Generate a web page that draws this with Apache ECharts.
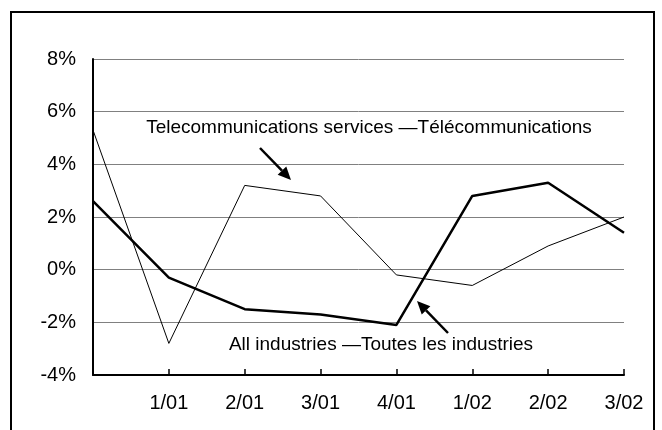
<!DOCTYPE html>
<html>
<head>
<meta charset="utf-8">
<script src="https://cdn.jsdelivr.net/npm/echarts@6/dist/echarts.min.js"></script>
<style>
html,body{margin:0;padding:0;background:#fff;}
#chart{width:662px;height:430px;}
</style>
</head>
<body>
<div id="chart"></div>
<script>
var categories = ['', '1/01', '2/01', '3/01', '4/01', '1/02', '2/02', '3/02'];
var telecom = [5.3, -2.8, 3.2, 2.8, -0.2, -0.6, 0.9, 2.0];
var allIndustries = [2.6, -0.3, -1.5, -1.7, -2.1, 2.8, 3.3, 1.4];
var yTicks = { min: -4, max: 8, interval: 2 };
var telecomLabel = 'Telecommunications services \u2014T\u00e9l\u00e9communications';
var allLabel = 'All industries \u2014Toutes les industries';

var FONT = '"Liberation Sans", Arial, sans-serif';
var chart = echarts.init(document.getElementById('chart'));

function arrow(x1, y1, x2, y2) {
  var dx = x2 - x1, dy = y2 - y1;
  var len = Math.sqrt(dx * dx + dy * dy);
  var ux = dx / len, uy = dy / len;
  var hl = 13, hw = 6;
  var bx = x2 - ux * hl, by = y2 - uy * hl;
  var px = -uy, py = ux;
  return [
    { type: 'line', shape: { x1: x1, y1: y1, x2: bx, y2: by }, style: { stroke: '#000', lineWidth: 2.5 }, z: 10 },
    { type: 'polygon', shape: { points: [[x2, y2], [bx + px * hw, by + py * hw], [bx - px * hw, by - py * hw]] }, style: { fill: '#000' }, z: 10 }
  ];
}

var graphics = [
  { type: 'rect', shape: { x: 11, y: 12, width: 643, height: 440 }, style: { fill: 'none', stroke: '#000', lineWidth: 2 }, z: 10 },
  { type: 'text', x: 369, y: 128, style: { text: telecomLabel, font: '19px ' + FONT, fill: '#000', align: 'center', verticalAlign: 'middle' }, z: 10 },
  { type: 'text', x: 381, y: 345, style: { text: allLabel, font: '19px ' + FONT, fill: '#000', align: 'center', verticalAlign: 'middle' }, z: 10 }
].concat(arrow(260, 148, 291, 180)).concat(arrow(448, 333, 417, 301));

chart.setOption({
  animation: false,
  backgroundColor: '#fff',
  grid: { left: 93, right: 38, top: 59, bottom: 55, containLabel: false },
  xAxis: {
    type: 'category',
    data: categories,
    boundaryGap: false,
    axisLine: { onZero: false, lineStyle: { color: '#000', width: 2 } },
    axisTick: { show: true, inside: true, length: 6, alignWithLabel: true, lineStyle: { color: '#000', width: 1.5 } },
    axisLabel: { color: '#000', fontSize: 20, fontFamily: FONT, margin: 18, interval: 0 },
    splitLine: { show: false }
  },
  yAxis: {
    type: 'value',
    min: yTicks.min, max: yTicks.max, interval: yTicks.interval,
    axisLine: { show: true, lineStyle: { color: '#000', width: 2 } },
    axisTick: { show: false },
    axisLabel: { color: '#000', fontSize: 20, fontFamily: FONT, margin: 17, formatter: '{value}%' },
    splitLine: { show: true, lineStyle: { color: '#808080', width: 1 } }
  },
  series: [
    { name: 'Telecom', type: 'line', data: telecom, symbol: 'none', lineStyle: { color: '#000', width: 1 }, z: 3 },
    { name: 'All', type: 'line', data: allIndustries, symbol: 'none', lineStyle: { color: '#000', width: 2.5 }, z: 4 }
  ],
  graphic: graphics
});
</script>
</body>
</html>
